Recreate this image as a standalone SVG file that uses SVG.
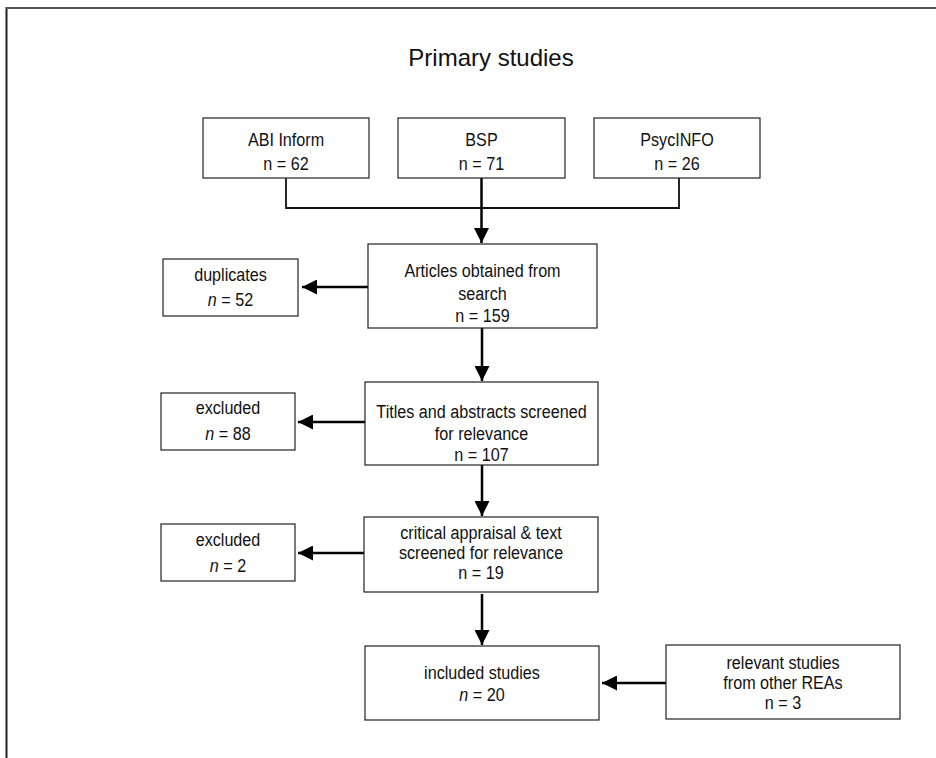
<svg xmlns="http://www.w3.org/2000/svg" width="936" height="758" viewBox="0 0 936 758">
<style>
.box{fill:#fff;stroke:#222;stroke-width:1.2}
.t{font-family:"Liberation Sans",Arial,sans-serif;font-size:19px;text-anchor:middle;fill:#111}
.title{font-family:"Liberation Sans",Arial,sans-serif;font-size:24px;text-anchor:middle;fill:#111}
.c{fill:none;stroke:#000;stroke-width:2.5}
.c2{fill:none;stroke:#111;stroke-width:1.8}
.i{font-style:italic}
</style>
<defs>
<marker id="ah" viewBox="0 0 10 10" refX="10" refY="5" markerUnits="userSpaceOnUse" markerWidth="15" markerHeight="15" orient="auto">
<path d="M0,0 L10,5 L0,10 z" fill="#000"/>
</marker>
</defs>
<rect width="936" height="758" fill="#fff"/>
<g id="frame">
<line x1="6.5" y1="7" x2="6.5" y2="758" stroke="#222" stroke-width="2"/>
<line x1="6" y1="8" x2="936" y2="8" stroke="#555" stroke-width="2"/>
</g>
<text class="title" x="491" y="66">Primary studies</text>
<g id="connectors">
<polyline class="c2" points="286,178 286,208 679,208 679,178"/>
<line class="c" x1="481.5" y1="178" x2="481.5" y2="243" marker-end="url(#ah)"/>
<line class="c" x1="368" y1="287" x2="302" y2="287" marker-end="url(#ah)"/>
<line class="c" x1="482" y1="328" x2="482" y2="381" marker-end="url(#ah)"/>
<line class="c" x1="365" y1="422" x2="298" y2="422" marker-end="url(#ah)"/>
<line class="c" x1="482" y1="465" x2="482" y2="516" marker-end="url(#ah)"/>
<line class="c" x1="364" y1="553" x2="298" y2="553" marker-end="url(#ah)"/>
<line class="c" x1="482" y1="594" x2="482" y2="645" marker-end="url(#ah)"/>
<line class="c" x1="666" y1="683" x2="602" y2="683" marker-end="url(#ah)"/>
</g>
<g id="abi">
<rect class="box" x="203" y="118" width="166" height="60"/>
<text class="t" transform="translate(286,146) scale(0.85,1)">ABI Inform</text>
<text class="t" transform="translate(286,170) scale(0.85,1)">n = 62</text>
</g>
<g id="bsp">
<rect class="box" x="398" y="118" width="167" height="60"/>
<text class="t" transform="translate(481.5,146) scale(0.85,1)">BSP</text>
<text class="t" transform="translate(481.5,170) scale(0.85,1)">n = 71</text>
</g>
<g id="psycinfo">
<rect class="box" x="594" y="118" width="166" height="60"/>
<text class="t" transform="translate(677,146) scale(0.85,1)">PsycINFO</text>
<text class="t" transform="translate(677,170) scale(0.85,1)">n = 26</text>
</g>
<g id="articles">
<rect class="box" x="368" y="244" width="229" height="84"/>
<text class="t" transform="translate(482.5,277) scale(0.85,1)">Articles obtained from</text>
<text class="t" transform="translate(482.5,300) scale(0.85,1)">search</text>
<text class="t" transform="translate(482.5,322) scale(0.85,1)">n = 159</text>
</g>
<g id="duplicates">
<rect class="box" x="163" y="259" width="135" height="57"/>
<text class="t" transform="translate(230.5,281) scale(0.85,1)">duplicates</text>
<text class="t" transform="translate(230.5,306) scale(0.85,1)"><tspan class="i">n</tspan> = 52</text>
</g>
<g id="titles">
<rect class="box" x="365" y="382" width="233" height="83"/>
<text class="t" transform="translate(481.5,418) scale(0.85,1)">Titles and abstracts screened</text>
<text class="t" transform="translate(481.5,440) scale(0.85,1)">for relevance</text>
<text class="t" transform="translate(481.5,461) scale(0.85,1)">n = 107</text>
</g>
<g id="excluded88">
<rect class="box" x="161" y="393" width="134" height="57"/>
<text class="t" transform="translate(228,414) scale(0.85,1)">excluded</text>
<text class="t" transform="translate(228,440) scale(0.85,1)"><tspan class="i">n</tspan> = 88</text>
</g>
<g id="critical">
<rect class="box" x="364" y="517" width="234" height="75"/>
<text class="t" transform="translate(481,539) scale(0.85,1)">critical appraisal &amp; text</text>
<text class="t" transform="translate(481,559) scale(0.85,1)">screened for relevance</text>
<text class="t" transform="translate(481,579) scale(0.85,1)">n = 19</text>
</g>
<g id="excluded2">
<rect class="box" x="161" y="524" width="134" height="57"/>
<text class="t" transform="translate(228,546) scale(0.85,1)">excluded</text>
<text class="t" transform="translate(228,572) scale(0.85,1)"><tspan class="i">n</tspan> = 2</text>
</g>
<g id="included">
<rect class="box" x="365" y="646" width="234" height="74"/>
<text class="t" transform="translate(482,679) scale(0.85,1)">included studies</text>
<text class="t" transform="translate(482,701) scale(0.85,1)"><tspan class="i">n</tspan> = 20</text>
</g>
<g id="relevant">
<rect class="box" x="666" y="645" width="234" height="74"/>
<text class="t" transform="translate(783,669) scale(0.85,1)">relevant studies</text>
<text class="t" transform="translate(783,689) scale(0.85,1)">from other REAs</text>
<text class="t" transform="translate(783,709) scale(0.85,1)">n = 3</text>
</g>
</svg>
